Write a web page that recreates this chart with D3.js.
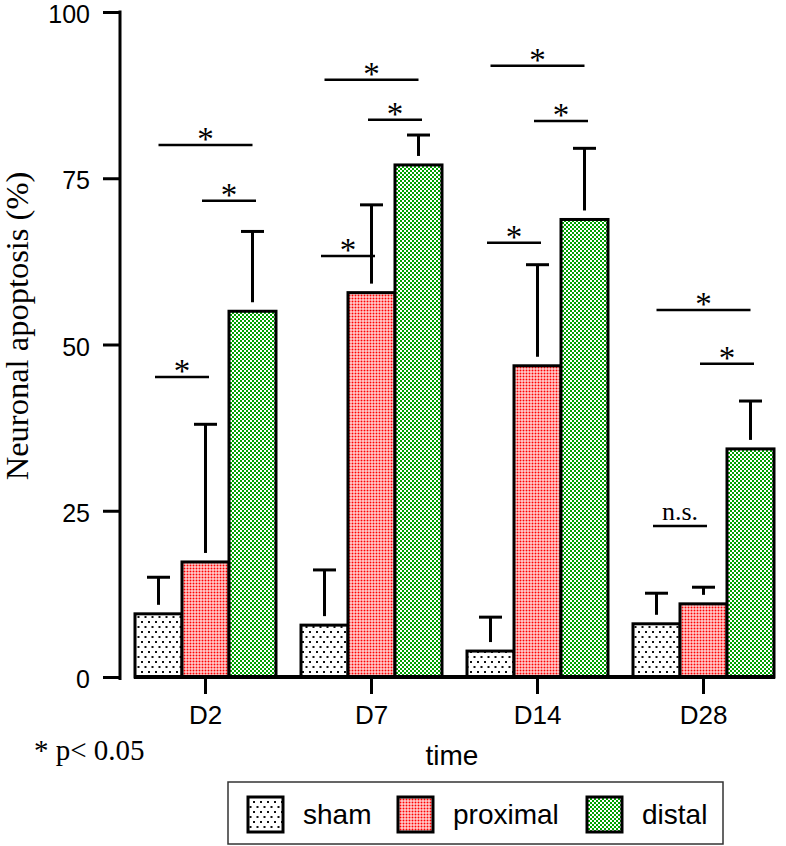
<!DOCTYPE html>
<html>
<head>
<meta charset="utf-8">
<script src="https://cdn.jsdelivr.net/npm/d3@7"></script>
<style>
  html, body { margin: 0; padding: 0; background: #fff; }
  svg { display: block; }
</style>
</head>
<body>
<div id="chart"></div>
<script>
// ---- data ----
const groups = ["D2", "D7", "D14", "D28"];
const series = ["sham", "proximal", "distal"];
const shamValues = [9.5, 7.8, 3.9, 8.0];
const shamErr = [5.5, 8.3, 5.1, 4.6];
const proximalValues = [17.3, 57.8, 46.8, 11.0];
const proximalErr = [20.7, 13.2, 15.2, 2.5];
const distalValues = [55.0, 77.0, 68.8, 34.3];
const distalErr = [12.0, 4.5, 10.7, 7.2];
const yTicks = [0, 25, 50, 75, 100];
// significance annotations: group, from series, to series, height, label
const sigGroup = ["D2", "D2", "D2", "D7", "D7", "D7", "D14", "D14", "D14", "D28", "D28", "D28"];
const sigFrom = ["sham", "proximal", "sham", "sham", "proximal", "sham", "sham", "proximal", "sham", "sham", "proximal", "sham"];
const sigTo = ["distal", "distal", "proximal", "distal", "distal", "proximal", "distal", "distal", "proximal", "distal", "distal", "proximal"];
const sigHeight = [80.0, 71.6, 45.1, 89.8, 83.8, 63.3, 91.9, 83.6, 65.3, 55.2, 47.1, 22.7];
const sigLabel = ["*", "*", "*", "*", "*", "*", "*", "*", "*", "*", "*", "n.s."];

const valuesBySeries = { sham: shamValues, proximal: proximalValues, distal: distalValues };
const errBySeries = { sham: shamErr, proximal: proximalErr, distal: distalErr };

const W = 786, H = 846;
const svg = d3.select("#chart").append("svg").attr("width", W).attr("height", H);

// ---- patterns ----
const defs = svg.append("defs");
const pSham = defs.append("pattern").attr("id", "pat-sham").attr("patternUnits", "userSpaceOnUse")
  .attr("width", 7).attr("height", 10);
pSham.append("rect").attr("width", 7).attr("height", 10).attr("fill", "#fff");
pSham.append("rect").attr("x", 1).attr("y", 1).attr("width", 2).attr("height", 2).attr("fill", "#111");
pSham.append("rect").attr("x", 4.5).attr("y", 6).attr("width", 2).attr("height", 2).attr("fill", "#111");

const pProx = defs.append("pattern").attr("id", "pat-proximal").attr("patternUnits", "userSpaceOnUse")
  .attr("width", 3).attr("height", 3);
pProx.append("rect").attr("width", 3).attr("height", 3).attr("fill", "#fff");
pProx.append("rect").attr("x", 0.5).attr("y", 0.5).attr("width", 2).attr("height", 2).attr("fill", "#ff0000");

const pDist = defs.append("pattern").attr("id", "pat-distal").attr("patternUnits", "userSpaceOnUse")
  .attr("width", 4).attr("height", 4);
pDist.append("rect").attr("width", 4).attr("height", 4).attr("fill", "#fff");
pDist.append("rect").attr("x", 0).attr("y", 0).attr("width", 2).attr("height", 2).attr("fill", "#00a000");
pDist.append("rect").attr("x", 2).attr("y", 2).attr("width", 2).attr("height", 2).attr("fill", "#00a000");

const fillFor = s => `url(#pat-${s})`;

// ---- scales ----
const x0 = d3.scaleBand().domain(groups).range([135, 774]).paddingInner(25 / 166).paddingOuter(0);
const x1 = d3.scaleBand().domain(series).range([0, x0.bandwidth()]).padding(0);
const y = d3.scaleLinear().domain([0, 100]).range([677, 12]);

const sansFont = "'Liberation Sans', Arial, Helvetica, sans-serif";
const serifFont = "'Liberation Serif', 'Times New Roman', Times, serif";

// ---- y axis ----
const yAxis = d3.axisLeft(y).tickValues(yTicks).tickSize(17).tickPadding(13).tickFormat(d3.format("d"));
const gy = svg.append("g").attr("transform", "translate(120,0)").call(yAxis);
gy.select(".domain").attr("d", `M0,${y(100) - 1.5}V${y(0) + 3}`).attr("stroke", "#000").attr("stroke-width", 3);
gy.selectAll(".tick line").attr("stroke", "#000").attr("stroke-width", 3);
gy.selectAll(".tick text").attr("font-family", sansFont).attr("font-size", 25).attr("fill", "#000")
  .attr("dy", "0.42em");

// ---- x axis ----
const xAxis = d3.axisBottom(x0).tickSize(17).tickPadding(12);
const gx = svg.append("g").attr("transform", `translate(0,${y(0)})`).call(xAxis);
gx.select(".domain").remove();
gx.selectAll(".tick line").attr("stroke", "#000").attr("stroke-width", 3);
gx.selectAll(".tick text").attr("font-family", sansFont).attr("font-size", 26).attr("fill", "#000");

// ---- bars ----
const barData = [];
groups.forEach((g, gi) => {
  series.forEach(s => {
    barData.push({ g, s, v: valuesBySeries[s][gi], e: errBySeries[s][gi] });
  });
});

const barG = svg.append("g");
// error bars (upward only, with a small gap above the bar)
const errG = barG.append("g");
barData.forEach(d => {
  const cx = x0(d.g) + x1(d.s) + x1.bandwidth() / 2;
  const top = y(d.v + d.e);
  const bottom = Math.max(top + 4, y(d.v) - 9);
  errG.append("line").attr("x1", cx).attr("x2", cx).attr("y1", bottom).attr("y2", top)
    .attr("stroke", "#000").attr("stroke-width", 3);
  errG.append("line").attr("x1", cx - 11.5).attr("x2", cx + 11.5).attr("y1", top).attr("y2", top)
    .attr("stroke", "#000").attr("stroke-width", 3);
});

barG.selectAll("rect.bar").data(barData).join("rect").attr("class", "bar")
  .attr("x", d => x0(d.g) + x1(d.s))
  .attr("y", d => y(d.v))
  .attr("width", x1.bandwidth())
  .attr("height", d => y(0) - y(d.v))
  .attr("fill", d => fillFor(d.s))
  .attr("stroke", "#000").attr("stroke-width", 3);

// baseline
svg.append("line").attr("x1", x0(groups[0]) - 1).attr("x2", x0(groups[groups.length - 1]) + x0.bandwidth() + 1)
  .attr("y1", y(0)).attr("y2", y(0)).attr("stroke", "#000").attr("stroke-width", 4);

// ---- significance ----
const sigG = svg.append("g");
sigGroup.forEach((g, i) => {
  const ca = x0(g) + x1(sigFrom[i]) + x1.bandwidth() / 2;
  const cb = x0(g) + x1(sigTo[i]) + x1.bandwidth() / 2;
  const adj = Math.abs(series.indexOf(sigTo[i]) - series.indexOf(sigFrom[i])) === 1;
  const ext = adj ? 3.5 : 0;
  const yy = y(sigHeight[i]);
  sigG.append("line").attr("x1", ca - ext).attr("x2", cb + ext).attr("y1", yy).attr("y2", yy)
    .attr("stroke", "#000").attr("stroke-width", 2.5);
  const isNs = sigLabel[i] !== "*";
  sigG.append("text").attr("x", (ca + cb) / 2).attr("y", isNs ? yy - 6 : yy + 5)
    .attr("text-anchor", "middle").attr("font-family", serifFont)
    .attr("font-size", isNs ? 26 : 33).attr("fill", "#000").text(sigLabel[i]);
});

// ---- axis titles ----
svg.append("text").attr("transform", `translate(28,326) rotate(-90)`).attr("text-anchor", "middle")
  .attr("font-family", serifFont).attr("font-size", 32.5).attr("fill", "#000").text("Neuronal apoptosis (%)");
svg.append("text").attr("x", 452).attr("y", 765).attr("text-anchor", "middle")
  .attr("font-family", sansFont).attr("font-size", 28).attr("fill", "#000").text("time");
svg.append("text").attr("x", 34).attr("y", 760)
  .attr("font-family", serifFont).attr("font-size", 29).attr("fill", "#000").text("* p< 0.05");

// ---- legend ----
const legend = svg.append("g");
legend.append("rect").attr("x", 228).attr("y", 782).attr("width", 495).attr("height", 62)
  .attr("fill", "#fff").attr("stroke", "#333").attr("stroke-width", 1.5);
const swatchX = [248, 398, 587];
series.forEach((s, i) => {
  legend.append("rect").attr("x", swatchX[i]).attr("y", 797).attr("width", 35).attr("height", 35)
    .attr("fill", fillFor(s)).attr("stroke", "#000").attr("stroke-width", 3);
  legend.append("text").attr("x", swatchX[i] + 55).attr("y", 824)
    .attr("font-family", sansFont).attr("font-size", 28).attr("fill", "#000").text(s);
});
</script>
</body>
</html>
